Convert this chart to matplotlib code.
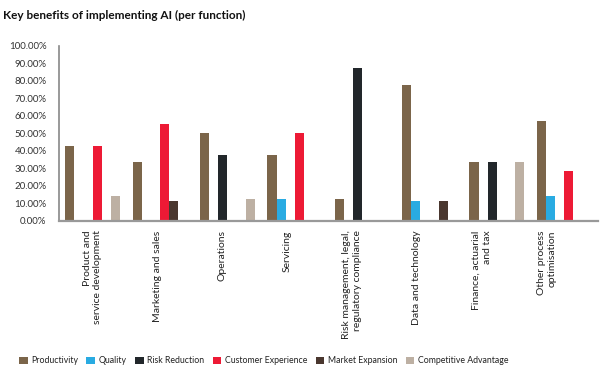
import numpy as np
import matplotlib.pyplot as plt
from matplotlib.patches import Patch
from matplotlib.ticker import FuncFormatter

plt.rcParams['font.family'] = ['Lato', 'DejaVu Sans']

functions = ['Product and\nservice development', 'Marketing and sales', 'Operations',
             'Servicing', 'Risk management, legal,\nregulatory compliance',
             'Data and technology', 'Finance, actuarial\nand tax',
             'Other process\noptimisation']
series = ['Productivity', 'Quality', 'Risk Reduction', 'Customer Experience',
          'Market Expansion', 'Competitive Advantage']
colors = ['#7B654A', '#29ABE2', '#22272B', '#ED1A35', '#4A372F', '#BDB0A3']

productivity = [0.4286, 0.3333, 0.50, 0.375, 0.125, 0.7778, 0.3333, 0.5714]
quality = [0, 0, 0, 0.125, 0, 0.1111, 0, 0.1429]
risk_reduction = [0, 0, 0.375, 0, 0.875, 0, 0.3333, 0]
customer_experience = [0.4286, 0.5556, 0, 0.50, 0, 0, 0, 0.2857]
market_expansion = [0, 0.1111, 0, 0, 0, 0.1111, 0, 0]
competitive_advantage = [0.1429, 0, 0.125, 0, 0, 0, 0.3333, 0]

values = [productivity, quality, risk_reduction, customer_experience,
          market_expansion, competitive_advantage]

fig = plt.figure(figsize=(6.02, 3.76), dpi=100)
ax = fig.add_axes([0.098, 0.413, 0.895, 0.465])

x = np.arange(len(functions))
slot = 0.135
for i, (name, vals, c) in enumerate(zip(series, values, colors)):
    offs = (i - 2.5) * slot
    ax.bar(x + offs, vals, width=slot, color=c, label=name)

ax.set_xlim(-0.5, len(functions) - 0.5)
ax.set_ylim(0, 1.0)
ax.set_yticks(np.arange(0, 1.01, 0.1))
ax.yaxis.set_major_formatter(FuncFormatter(lambda v, p: f'{v * 100:.2f}%'))
ax.tick_params(axis='y', length=0, labelsize=7, colors='#333333', pad=9)

# labels sit slightly left of the group centres in the original
ax.set_xticks(x * 0.963)
ax.set_xticklabels(functions, rotation=90, fontsize=7.5, color='#222222',
                   multialignment='right', va='top', ha='center')
ax.tick_params(axis='x', length=0, pad=7)

for s in ['top', 'right']:
    ax.spines[s].set_visible(False)
ax.spines['left'].set_color('#888888')
ax.spines['left'].set_linewidth(1.2)
ax.spines['bottom'].set_color('#999999')
ax.spines['bottom'].set_linewidth(1.6)

fig.text(0.005, 0.958, 'Key benefits of implementing AI (per function)',
         fontsize=8.5, fontweight='bold', color='#111111', va='center')

handles = [Patch(facecolor=c, label=n) for n, c in zip(series, colors)]
fig.legend(handles=handles, loc='center', bbox_to_anchor=(0.438, 0.04), ncol=6,
           frameon=False, fontsize=6.3, handlelength=1.0, handleheight=1.0,
           handletextpad=0.4, columnspacing=0.95, labelcolor='#222222')

plt.savefig('out.png', dpi=100)
